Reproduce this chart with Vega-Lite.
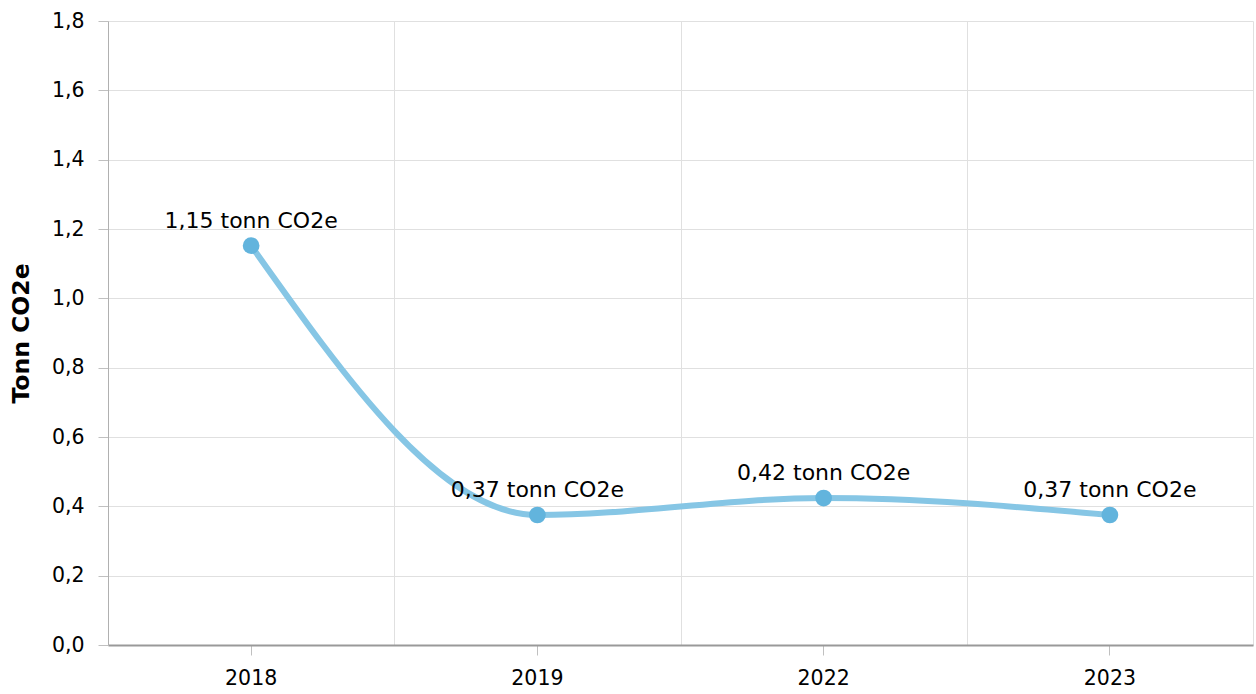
{
  "$schema": "https://vega.github.io/schema/vega-lite/v6.json",
  "autosize": "none",
  "width": 1145,
  "height": 624,
  "padding": {"left": 108, "top": 21, "right": 3, "bottom": 49},
  "background": "white",
  "config": {
    "view": {"stroke": null},
    "font": "DejaVu Sans",
    "axis": {"labelFont": "DejaVu Sans", "titleFont": "DejaVu Sans", "labelFontSize": 20.5, "labelColor": "#000000", "gridColor": "#e0e0e0", "gridWidth": 1}
  },
  "data": {"values": [
    {"year": "2018", "value": 1.152, "label": "1,15 tonn CO2e"},
    {"year": "2019", "value": 0.375, "label": "0,37 tonn CO2e"},
    {"year": "2022", "value": 0.424, "label": "0,42 tonn CO2e"},
    {"year": "2023", "value": 0.375, "label": "0,37 tonn CO2e"}
  ]},
  "encoding": {
    "x": {"field": "year", "type": "ordinal", "scale": {"type": "band", "paddingInner": 0, "paddingOuter": 0}},
    "y": {"field": "value", "type": "quantitative", "scale": {"domain": [0, 1.8], "nice": false, "zero": true}}
  },
  "resolve": {"axis": {"x": "independent"}},
  "layer": [
    {
      "mark": {"type": "rule", "opacity": 0},
      "encoding": {
        "x": {"field": "year", "type": "ordinal", "axis": {"orient": "bottom", "grid": true, "tickBand": "extent", "labels": false, "ticks": false, "domain": false, "title": null}},
        "y": {"field": "value", "type": "quantitative", "axis": {"title": "Tonn CO2e", "titleFontSize": 23.5, "titleFontWeight": "bold", "titleColor": "#000000", "titlePadding": 18, "grid": true, "format": ".1f", "labelExpr": "replace(datum.label, '.', ',')", "values": [0, 0.2, 0.4, 0.6, 0.8, 1.0, 1.2, 1.4, 1.6, 1.8], "tickSize": 10, "tickColor": "#c0c0c0", "domainColor": "#b0b0b0", "labelPadding": 14}}
      }
    },
    {
      "mark": {"type": "line", "interpolate": "monotone", "color": "#86c6e5", "strokeWidth": 6},
      "encoding": {
        "x": {"field": "year", "type": "ordinal", "axis": {"orient": "bottom", "grid": false, "title": null, "labelAngle": 0, "domainColor": "#999999", "domainWidth": 2, "tickColor": "#c0c0c0", "tickSize": 10, "labelPadding": 13}}
      }
    },
    {
      "mark": {"type": "point", "filled": true, "opacity": 1, "size": 280, "color": "#62b4dd"},
      "encoding": {"x": {"field": "year", "type": "ordinal", "axis": null}}
    },
    {
      "mark": {"type": "text", "baseline": "alphabetic", "dy": -18, "fontSize": 22, "color": "#000000", "font": "DejaVu Sans"},
      "encoding": {"x": {"field": "year", "type": "ordinal", "axis": null}, "text": {"field": "label"}}
    }
  ]
}
